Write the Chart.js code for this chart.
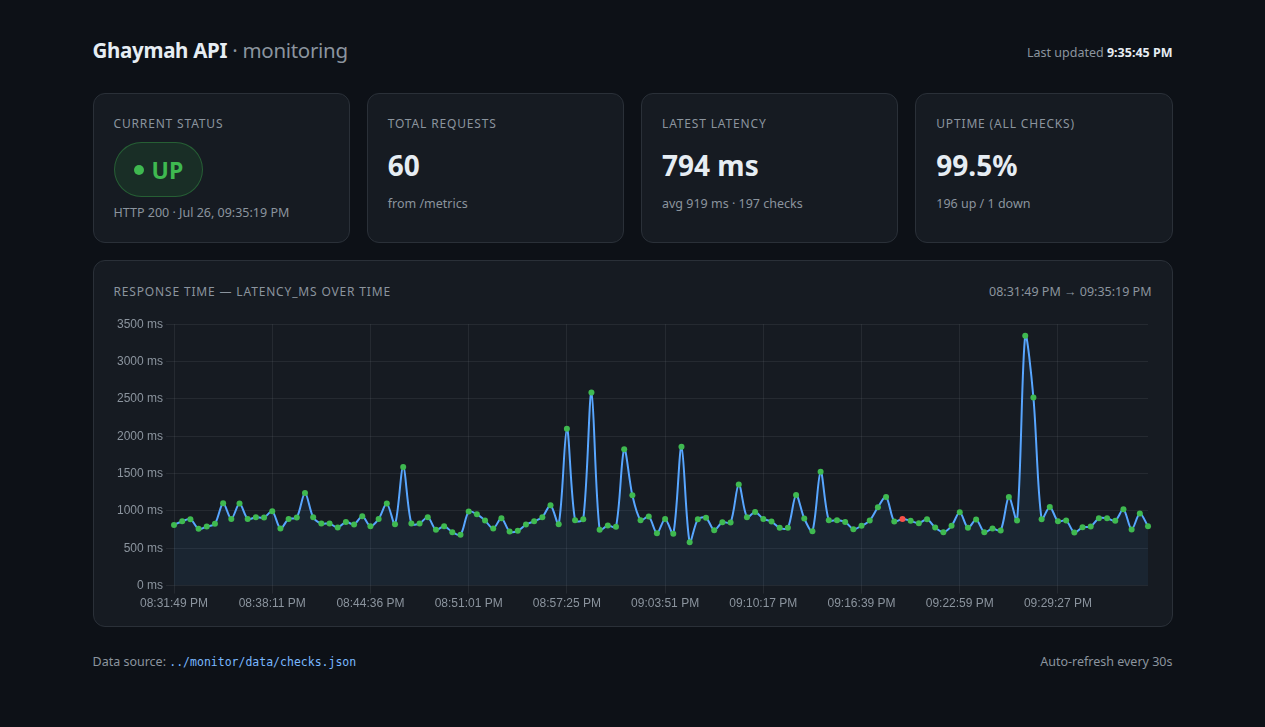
<!DOCTYPE html>
<html lang="en">
<head>
<meta charset="utf-8">
<title>Ghaymah API · monitoring</title>
<script src="https://cdn.jsdelivr.net/npm/chart.js@4.4.1/dist/chart.umd.min.js"></script>
<style>
  * { box-sizing: border-box; }
  html, body { margin: 0; padding: 0; }
  body {
    background: #0d1117;
    color: #e6edf3;
    font-family: "Segoe UI", "Noto Sans", "Open Sans", sans-serif;
  }
  .wrap { width: 1080px; margin: 0 auto; padding-top: 33px; }
  header { display: flex; justify-content: space-between; align-items: center; height: 34px; }
  h1 { margin: 0; font-size: 20.5px; font-weight: 700; letter-spacing: -0.3px; }
  h1 span { font-weight: 400; color: #8b949e; }
  .updated { font-size: 12.5px; color: #8b949e; padding-top: 4px; }
  .updated b { color: #e6edf3; }
  .cards { display: grid; grid-template-columns: repeat(4, 1fr); gap: 17px; margin-top: 26px; }
  .card {
    background: #161b22;
    border: 1px solid #2a3038;
    border-radius: 12px;
    padding: 22px 20px 20px;
  }
  .stat { height: 150px; }
  .label { font-size: 12px; letter-spacing: 0.07em; text-transform: uppercase; color: #8b949e; line-height: 16px; }
  .value { font-size: 28px; font-weight: 700; margin-top: 16px; line-height: 34px; }
  .sub { font-size: 12.5px; color: #8b949e; margin-top: 13px; }
  .pill {
    display: inline-flex; align-items: center; gap: 8px;
    margin-top: 10px; height: 55px; padding: 0 19px 0 19px;
    border-radius: 28px;
    background: rgba(46, 160, 67, 0.15);
    border: 1px solid rgba(63, 185, 80, 0.35);
    color: #3fb950; font-weight: 700; font-size: 23px;
  }
  .pill i { width: 10px; height: 10px; border-radius: 50%; background: #3fb950; display: inline-block; }
  .pill + .sub { margin-top: 7px; }
  .chart-card { margin-top: 17px; height: 367px; }
  .chart-head { display: flex; justify-content: space-between; align-items: center; }
  .range { font-size: 12.5px; color: #8b949e; }
  .chart-box { position: relative; height: 300px; margin-top: 14px; }
  footer { display: flex; justify-content: space-between; margin-top: 26px; font-size: 12.5px; color: #8b949e; }
  code { font-family: "DejaVu Sans Mono", monospace; font-size: 11.5px; color: #79b8ff; }
</style>
</head>
<body>
<div class="wrap">
  <header>
    <h1>Ghaymah API <span>· monitoring</span></h1>
    <div class="updated">Last updated <b>9:35:45 PM</b></div>
  </header>

  <div class="cards">
    <div class="card stat">
      <div class="label">Current status</div>
      <div class="pill"><i></i>UP</div>
      <div class="sub">HTTP 200 · Jul 26, 09:35:19 PM</div>
    </div>
    <div class="card stat">
      <div class="label">Total requests</div>
      <div class="value">60</div>
      <div class="sub">from /metrics</div>
    </div>
    <div class="card stat">
      <div class="label">Latest latency</div>
      <div class="value">794 ms</div>
      <div class="sub">avg 919 ms · 197 checks</div>
    </div>
    <div class="card stat">
      <div class="label">Uptime (all checks)</div>
      <div class="value">99.5%</div>
      <div class="sub">196 up / 1 down</div>
    </div>
  </div>

  <div class="card chart-card">
    <div class="chart-head">
      <div class="label">Response time — latency_ms over time</div>
      <div class="range">08:31:49 PM → 09:35:19 PM</div>
    </div>
    <div class="chart-box"><canvas id="latency"></canvas></div>
  </div>

  <footer>
    <div>Data source: <code>../monitor/data/checks.json</code></div>
    <div>Auto-refresh every 30s</div>
  </footer>
</div>

<script>
// check timestamps (last 120 checks)
const checkTimes = [
  '08:31:49 PM', '08:32:21 PM', '08:32:53 PM', '08:33:25 PM', '08:33:57 PM', '08:34:28 PM',
  '08:35:00 PM', '08:35:32 PM', '08:36:04 PM', '08:36:35 PM', '08:37:07 PM', '08:37:39 PM',
  '08:38:11 PM', '08:38:43 PM', '08:39:15 PM', '08:39:47 PM', '08:40:19 PM', '08:40:51 PM',
  '08:41:24 PM', '08:41:56 PM', '08:42:28 PM', '08:43:00 PM', '08:43:32 PM', '08:44:04 PM',
  '08:44:36 PM', '08:45:08 PM', '08:45:40 PM', '08:46:12 PM', '08:46:44 PM', '08:47:16 PM',
  '08:47:49 PM', '08:48:21 PM', '08:48:53 PM', '08:49:25 PM', '08:49:57 PM', '08:50:29 PM',
  '08:51:01 PM', '08:51:33 PM', '08:52:05 PM', '08:52:37 PM', '08:53:09 PM', '08:53:41 PM',
  '08:54:13 PM', '08:54:45 PM', '08:55:17 PM', '08:55:49 PM', '08:56:21 PM', '08:56:53 PM',
  '08:57:25 PM', '08:57:57 PM', '08:58:29 PM', '08:59:01 PM', '08:59:35 PM', '09:00:07 PM',
  '09:00:39 PM', '09:01:11 PM', '09:01:44 PM', '09:02:16 PM', '09:02:48 PM', '09:03:19 PM',
  '09:03:51 PM', '09:04:23 PM', '09:04:55 PM', '09:05:29 PM', '09:06:01 PM', '09:06:33 PM',
  '09:07:05 PM', '09:07:37 PM', '09:08:09 PM', '09:08:41 PM', '09:09:13 PM', '09:09:45 PM',
  '09:10:17 PM', '09:10:49 PM', '09:11:21 PM', '09:11:52 PM', '09:12:24 PM', '09:12:56 PM',
  '09:13:27 PM', '09:13:59 PM', '09:14:31 PM', '09:15:03 PM', '09:15:35 PM', '09:16:07 PM',
  '09:16:39 PM', '09:17:11 PM', '09:17:42 PM', '09:18:14 PM', '09:18:45 PM', '09:19:17 PM',
  '09:19:48 PM', '09:20:20 PM', '09:20:51 PM', '09:21:23 PM', '09:21:55 PM', '09:22:27 PM',
  '09:22:59 PM', '09:23:31 PM', '09:24:03 PM', '09:24:35 PM', '09:25:07 PM', '09:25:39 PM',
  '09:26:11 PM', '09:26:43 PM', '09:27:15 PM', '09:27:51 PM', '09:28:23 PM', '09:28:55 PM',
  '09:29:27 PM', '09:29:59 PM', '09:30:31 PM', '09:31:03 PM', '09:31:35 PM', '09:32:07 PM',
  '09:32:39 PM', '09:33:11 PM', '09:33:43 PM', '09:34:15 PM', '09:34:47 PM', '09:35:19 PM'
];

// latency_ms per check
const latencyMs = [
  813, 862, 889, 760, 791, 827, 1102, 893, 1098, 893, 916, 911,
  996, 764, 893, 911, 1240, 916, 831, 831, 778, 853, 818, 929,
  796, 893, 1098, 822, 1587, 831, 831, 916, 747, 796, 716, 680,
  991, 956, 871, 764, 902, 724, 733, 818, 862, 916, 1076, 822,
  2100, 876, 889, 2584, 747, 804, 787, 1825, 1209, 876, 924, 702,
  893, 693, 1858, 582, 889, 907, 742, 849, 844, 1355, 916, 987,
  893, 858, 773, 773, 1213, 898, 729, 1524, 876, 876, 853, 756,
  800, 871, 1049, 1187, 858, 893, 867, 836, 889, 778, 716, 800,
  982, 773, 884, 716, 764, 738, 1187, 871, 3344, 2518, 889, 1053,
  862, 871, 711, 782, 791, 902, 902, 867, 1022, 751, 964, 794
];

// check result: 1 = up, 0 = down
const checkUp = [
  1, 1, 1, 1, 1, 1, 1, 1, 1, 1, 1, 1,
  1, 1, 1, 1, 1, 1, 1, 1, 1, 1, 1, 1,
  1, 1, 1, 1, 1, 1, 1, 1, 1, 1, 1, 1,
  1, 1, 1, 1, 1, 1, 1, 1, 1, 1, 1, 1,
  1, 1, 1, 1, 1, 1, 1, 1, 1, 1, 1, 1,
  1, 1, 1, 1, 1, 1, 1, 1, 1, 1, 1, 1,
  1, 1, 1, 1, 1, 1, 1, 1, 1, 1, 1, 1,
  1, 1, 1, 1, 1, 0, 1, 1, 1, 1, 1, 1,
  1, 1, 1, 1, 1, 1, 1, 1, 1, 1, 1, 1,
  1, 1, 1, 1, 1, 1, 1, 1, 1, 1, 1, 1
];

const palette = {
  line: '#58a6ff',
  fill: 'rgba(88, 166, 255, 0.07)',
  up: '#3fb950',
  down: '#f85149',
  tick: '#8b949e',
  grid: 'rgba(139, 148, 158, 0.13)'
};

const pointColors = checkUp.map(u => u ? palette.up : palette.down);

new Chart(document.getElementById('latency'), {
  type: 'line',
  data: {
    labels: checkTimes,
    datasets: [{
      label: 'latency_ms',
      data: latencyMs,
      borderColor: palette.line,
      backgroundColor: palette.fill,
      borderWidth: 2,
      tension: 0.3,
      fill: true,
      pointRadius: 3,
      pointBorderWidth: 0,
      pointBackgroundColor: pointColors,
      pointBorderColor: pointColors
    }]
  },
  options: {
    responsive: true,
    maintainAspectRatio: false,
    animation: false,
    plugins: {
      legend: { display: false },
      tooltip: { enabled: true }
    },
    scales: {
      x: {
        border: { display: false },
        grid: { color: palette.grid },
        ticks: {
          color: palette.tick,
          font: { size: 12 },
          maxRotation: 0,
          autoSkip: false,
          // every 12th check gets a label (and a grid line)
          callback: function (value, index) {
            return index % 12 === 0 && index < 110 ? this.getLabelForValue(value) : null;
          }
        }
      },
      y: {
        min: 0,
        max: 3500,
        border: { display: false },
        grid: { color: palette.grid },
        ticks: {
          color: palette.tick,
          font: { size: 12 },
          stepSize: 500,
          callback: v => v + ' ms'
        }
      }
    }
  }
});
</script>
</body>
</html>
